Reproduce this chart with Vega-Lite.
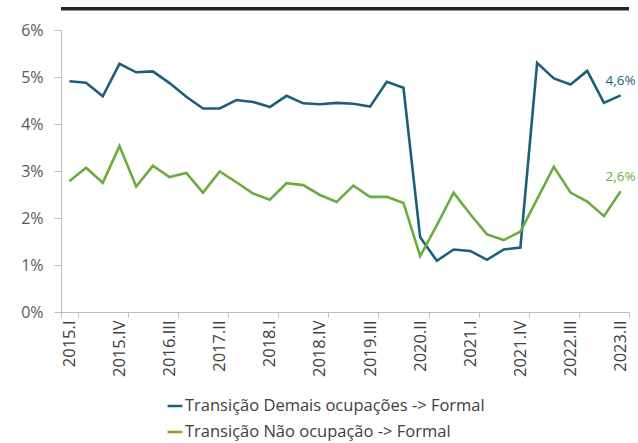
{
  "$schema": "https://vega.github.io/schema/vega-lite/v6.json",
  "width": 568,
  "height": 282,
  "autosize": {"type": "none"},
  "padding": {"left": 61, "top": 30, "right": 9, "bottom": 131},
  "config": {
    "locale": {"number": {"decimal": ",", "thousands": ".", "grouping": [3], "currency": ["R$", ""]}},
    "view": {"stroke": null},
    "font": "Open Sans"
  },
  "data": {
    "values": [
      {"q": "2015.I", "Transição Demais ocupações -> Formal": 0.0491, "Transição Não ocupação -> Formal": 0.0278},
      {"q": "2015.II", "Transição Demais ocupações -> Formal": 0.0488, "Transição Não ocupação -> Formal": 0.0307},
      {"q": "2015.III", "Transição Demais ocupações -> Formal": 0.0459, "Transição Não ocupação -> Formal": 0.0275},
      {"q": "2015.IV", "Transição Demais ocupações -> Formal": 0.0528, "Transição Não ocupação -> Formal": 0.0353},
      {"q": "2016.I", "Transição Demais ocupações -> Formal": 0.0510, "Transição Não ocupação -> Formal": 0.0267},
      {"q": "2016.II", "Transição Demais ocupações -> Formal": 0.0512, "Transição Não ocupação -> Formal": 0.0311},
      {"q": "2016.III", "Transição Demais ocupações -> Formal": 0.0487, "Transição Não ocupação -> Formal": 0.0287},
      {"q": "2016.IV", "Transição Demais ocupações -> Formal": 0.0458, "Transição Não ocupação -> Formal": 0.0296},
      {"q": "2017.I", "Transição Demais ocupações -> Formal": 0.0433, "Transição Não ocupação -> Formal": 0.0254},
      {"q": "2017.II", "Transição Demais ocupações -> Formal": 0.0433, "Transição Não ocupação -> Formal": 0.0299},
      {"q": "2017.III", "Transição Demais ocupações -> Formal": 0.0451, "Transição Não ocupação -> Formal": 0.0276},
      {"q": "2017.IV", "Transição Demais ocupações -> Formal": 0.0447, "Transição Não ocupação -> Formal": 0.0252},
      {"q": "2018.I", "Transição Demais ocupações -> Formal": 0.0436, "Transição Não ocupação -> Formal": 0.0239},
      {"q": "2018.II", "Transição Demais ocupações -> Formal": 0.0460, "Transição Não ocupação -> Formal": 0.0274},
      {"q": "2018.III", "Transição Demais ocupações -> Formal": 0.0444, "Transição Não ocupação -> Formal": 0.0270},
      {"q": "2018.IV", "Transição Demais ocupações -> Formal": 0.0442, "Transição Não ocupação -> Formal": 0.0249},
      {"q": "2019.I", "Transição Demais ocupações -> Formal": 0.0445, "Transição Não ocupação -> Formal": 0.0234},
      {"q": "2019.II", "Transição Demais ocupações -> Formal": 0.0443, "Transição Não ocupação -> Formal": 0.0269},
      {"q": "2019.III", "Transição Demais ocupações -> Formal": 0.0437, "Transição Não ocupação -> Formal": 0.0245},
      {"q": "2019.IV", "Transição Demais ocupações -> Formal": 0.0490, "Transição Não ocupação -> Formal": 0.0245},
      {"q": "2020.I", "Transição Demais ocupações -> Formal": 0.0477, "Transição Não ocupação -> Formal": 0.0232},
      {"q": "2020.II", "Transição Demais ocupações -> Formal": 0.0159, "Transição Não ocupação -> Formal": 0.0119},
      {"q": "2020.III", "Transição Demais ocupações -> Formal": 0.0109, "Transição Não ocupação -> Formal": 0.0185},
      {"q": "2020.IV", "Transição Demais ocupações -> Formal": 0.0133, "Transição Não ocupação -> Formal": 0.0254},
      {"q": "2021.I", "Transição Demais ocupações -> Formal": 0.0130, "Transição Não ocupação -> Formal": 0.0208},
      {"q": "2021.II", "Transição Demais ocupações -> Formal": 0.0111, "Transição Não ocupação -> Formal": 0.0165},
      {"q": "2021.III", "Transição Demais ocupações -> Formal": 0.0133, "Transição Não ocupação -> Formal": 0.0153},
      {"q": "2021.IV", "Transição Demais ocupações -> Formal": 0.0137, "Transição Não ocupação -> Formal": 0.0171},
      {"q": "2022.I", "Transição Demais ocupações -> Formal": 0.0530, "Transição Não ocupação -> Formal": 0.0240},
      {"q": "2022.II", "Transição Demais ocupações -> Formal": 0.0497, "Transição Não ocupação -> Formal": 0.0309},
      {"q": "2022.III", "Transição Demais ocupações -> Formal": 0.0484, "Transição Não ocupação -> Formal": 0.0254},
      {"q": "2022.IV", "Transição Demais ocupações -> Formal": 0.0513, "Transição Não ocupação -> Formal": 0.0235},
      {"q": "2023.I", "Transição Demais ocupações -> Formal": 0.0445, "Transição Não ocupação -> Formal": 0.0204},
      {"q": "2023.II", "Transição Demais ocupações -> Formal": 0.0461, "Transição Não ocupação -> Formal": 0.0257}
    ]
  },
  "transform": [
    {"fold": ["Transição Demais ocupações -> Formal", "Transição Não ocupação -> Formal"], "as": ["serie", "v"]}
  ],
  "layer": [
    {
      "mark": {"type": "line", "strokeWidth": 2.6},
      "encoding": {
        "x": {
          "field": "q", "type": "ordinal", "sort": null,
          "scale": {"type": "band", "paddingInner": 0, "paddingOuter": 0},
          "axis": {
            "title": null,
            "values": ["2015.I", "2015.IV", "2016.III", "2017.II", "2018.I", "2018.IV", "2019.III", "2020.II", "2021.I", "2021.IV", "2022.III", "2023.II"],
            "tickBand": "extent",
            "labelAngle": -90,
            "labelFontSize": 16.5,
            "labelColor": "#404040",
            "domainColor": "#bfbfbf",
            "tickColor": "#bfbfbf",
            "tickSize": 5,
            "labelPadding": 3
          }
        },
        "y": {
          "field": "v", "type": "quantitative",
          "scale": {"domain": [0, 0.06]},
          "axis": {
            "title": null,
            "values": [0, 0.01, 0.02, 0.03, 0.04, 0.05, 0.06],
            "format": ".0%",
            "grid": false,
            "labelFontSize": 16,
            "labelColor": "#595959",
            "domainColor": "#bfbfbf",
            "tickColor": "#bfbfbf",
            "tickSize": 7,
            "labelPadding": 11
          }
        },
        "color": {
          "field": "serie", "type": "nominal",
          "scale": {"domain": ["Transição Demais ocupações -> Formal", "Transição Não ocupação -> Formal"], "range": ["#1C5F7D", "#6AAD3E"]},
          "legend": {
            "title": null,
            "orient": "none",
            "legendX": 105,
            "legendY": 367,
            "direction": "vertical",
            "symbolType": "stroke",
            "symbolStrokeWidth": 2.5,
            "symbolSize": 220,
            "labelFontSize": 16.5,
            "labelColor": "#404040",
            "labelLimit": 0,
            "labelOffset": 1,
            "rowPadding": 8
          }
        }
      }
    },
    {
      "transform": [{"filter": "datum.q === '2023.II'"}],
      "mark": {"type": "text", "dy": -14, "fontSize": 13.5},
      "encoding": {
        "x": {"field": "q", "type": "ordinal", "sort": null},
        "y": {"field": "v", "type": "quantitative"},
        "color": {"field": "serie", "type": "nominal"},
        "text": {"field": "v", "type": "quantitative", "format": ".1%"}
      }
    },
    {
      "data": {"values": [{}]},
      "mark": {"type": "rule", "color": "#262626", "strokeWidth": 3.5, "clip": false},
      "encoding": {"y": {"datum": 0.0645}}
    }
  ]
}
